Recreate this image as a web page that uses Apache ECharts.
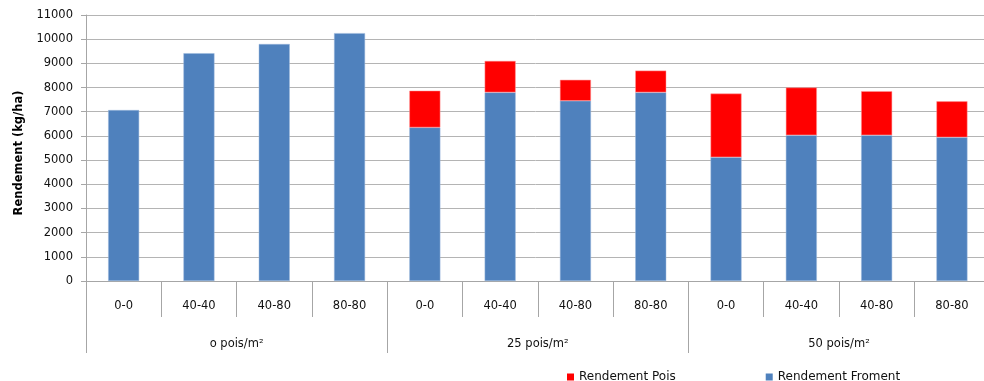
<!DOCTYPE html>
<html>
<head>
<meta charset="utf-8">
<script src="https://cdn.jsdelivr.net/npm/echarts@6/dist/echarts.min.js"></script>
<style>
html,body{margin:0;padding:0;background:#fff;}
#chart{width:984px;height:381px;}
</style>
</head>
<body>
<div id="chart"></div>
<script>
var categories = ['0-0','40-40','40-80','80-80','0-0','40-40','40-80','80-80','0-0','40-40','40-80','80-80'];
var groups = ['o pois/m²','25 pois/m²','50 pois/m²'];
var froment = [7070, 9420, 9800, 10250, 6350, 7800, 7450, 7800, 5120, 6030, 6030, 5940];
var pois = ['-', '-', '-', '-', 1520, 1300, 870, 900, 2630, 1970, 1820, 1490];
var yTicks = {min: 0, max: 11000, interval: 1000};

var FONT = 'DejaVu Sans';
var chart = echarts.init(document.getElementById('chart'), null, {renderer: 'canvas'});
var gray = '#a6a6a6';
chart.setOption({
  animation: false,
  backgroundColor: '#fff',
  textStyle: {fontFamily: FONT},
  grid: {left: 86, top: 15, width: 903.6, height: 266, containLabel: false, outerBoundsMode: 'none'},
  legend: {
    data: ['Rendement Pois', 'Rendement Froment'],
    left: 562, top: 366,
    itemWidth: 7, itemHeight: 7, itemGap: 90,
    icon: 'rect',
    itemStyle: {borderWidth: 0},
    textStyle: {fontFamily: FONT, fontSize: 12, color: '#111'}
  },
  xAxis: [{
    type: 'category',
    data: categories,
    position: 'bottom',
    axisLine: {show: true, lineStyle: {color: gray, width: 1}},
    axisTick: {show: true, interval: 0, length: 36, lineStyle: {color: gray}},
    axisLabel: {interval: 0, margin: 19, fontFamily: FONT, fontSize: 11.5, color: '#111'},
    splitLine: {show: false}
  }, {
    type: 'category',
    data: groups,
    position: 'bottom',
    axisLine: {show: false},
    axisTick: {show: true, interval: 0, length: 72, lineStyle: {color: gray}},
    axisLabel: {interval: 0, margin: 57, fontFamily: FONT, fontSize: 11.5, color: '#111'},
    splitLine: {show: false}
  }],
  yAxis: {
    type: 'value',
    min: yTicks.min, max: yTicks.max, interval: yTicks.interval,
    name: 'Rendement (kg/ha)',
    nameLocation: 'middle',
    nameGap: 61,
    nameTextStyle: {fontFamily: FONT, fontSize: 11.5, fontWeight: 'bold', color: '#000', padding: [0, 0, 0, -10]},
    axisLine: {show: true, lineStyle: {color: gray}},
    axisTick: {show: true, inside: false, length: 5, lineStyle: {color: gray}},
    axisLabel: {margin: 13, fontFamily: FONT, fontSize: 11.5, color: '#111', formatter: function (v) { return String(v); }},
    splitLine: {show: true, lineStyle: {color: '#b4b4b4', width: 1}}
  },
  series: [{
    name: 'Rendement Froment',
    type: 'bar',
    stack: 'total',
    xAxisIndex: 0,
    data: froment,
    barWidth: 31,
    itemStyle: {color: '#4F81BD', borderColor: '#9db8dc', borderWidth: 0.5}
  }, {
    name: 'Rendement Pois',
    type: 'bar',
    stack: 'total',
    xAxisIndex: 0,
    data: pois,
    barWidth: 31,
    itemStyle: {color: '#FF0000', borderColor: '#ff9a9a', borderWidth: 0.5}
  }]
});
</script>
</body>
</html>
